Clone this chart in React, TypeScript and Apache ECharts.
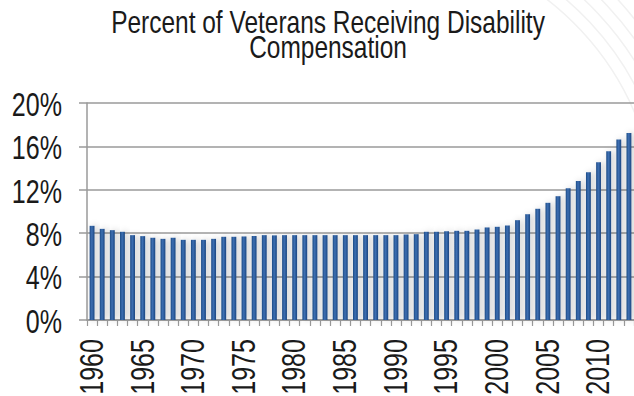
import React, { useEffect, useRef } from "react";
import * as echarts from "echarts";

const TITLE_LINES = ["Percent of Veterans Receiving Disability", "Compensation"];

const years = [
  "1960", "1961", "1962", "1963", "1964", "1965", "1966", "1967", "1968", "1969",
  "1970", "1971", "1972", "1973", "1974", "1975", "1976", "1977", "1978", "1979",
  "1980", "1981", "1982", "1983", "1984", "1985", "1986", "1987", "1988", "1989",
  "1990", "1991", "1992", "1993", "1994", "1995", "1996", "1997", "1998", "1999",
  "2000", "2001", "2002", "2003", "2004", "2005", "2006", "2007", "2008", "2009",
  "2010", "2011", "2012", "2013",
];

const percentReceiving = [
  8.68, 8.4, 8.28, 8.13, 7.82, 7.73, 7.58, 7.48, 7.58, 7.39,
  7.39, 7.39, 7.48, 7.67, 7.67, 7.7, 7.75, 7.82, 7.8, 7.82,
  7.82, 7.82, 7.82, 7.82, 7.82, 7.82, 7.82, 7.82, 7.82, 7.82,
  7.82, 7.88, 7.91, 8.13, 8.13, 8.18, 8.22, 8.22, 8.34, 8.53,
  8.59, 8.71, 9.2, 9.75, 10.25, 10.8, 11.41, 12.15, 12.82, 13.62,
  14.54, 15.55, 16.63, 17.24,
];

const yTicks = [0, 4, 8, 12, 16, 20];
const yTickLabels = ["0%", "4%", "8%", "12%", "16%", "20%"];
const xLabelYears = ["1960", "1965", "1970", "1975", "1980", "1985", "1990", "1995", "2000", "2005", "2010"];

const FONT = "'Liberation Sans', Arial, sans-serif";
const TEXT_COLOR = "#1a1a1a";
const AXIS_COLOR = "#9a9a9a";

function measure(text: string, size: number): number {
  const c = document.createElement("canvas").getContext("2d");
  if (!c) return text.length * size * 0.5;
  c.font = `${size}px ${FONT}`;
  return c.measureText(text).width;
}

export default function App() {
  const ref = useRef<HTMLDivElement>(null);

  useEffect(() => {
    if (!ref.current) return;
    const chart = echarts.init(ref.current, null, { renderer: "svg" });

    chart.setOption({
      animation: false,
      backgroundColor: "#ffffff",
      grid: { left: 87, right: 0, top: 103, bottom: 76, containLabel: false },
      xAxis: {
        type: "category",
        data: years,
        boundaryGap: true,
        axisLine: { show: true, lineStyle: { color: AXIS_COLOR, width: 1.5 } },
        axisTick: { show: true, interval: 0, length: 6, lineStyle: { color: AXIS_COLOR, width: 1.2 } },
        axisLabel: { show: false },
        splitLine: { show: false },
      },
      yAxis: {
        type: "value",
        min: yTicks[0],
        max: yTicks[yTicks.length - 1],
        interval: 4,
        axisLine: { show: true, lineStyle: { color: AXIS_COLOR, width: 1.5 } },
        axisTick: { show: true, length: 8, lineStyle: { color: AXIS_COLOR, width: 1.5 } },
        axisLabel: { show: false },
        splitLine: { show: true, lineStyle: { color: AXIS_COLOR, width: 1.5 } },
      },
      series: [
        {
          type: "bar",
          data: percentReceiving,
          barWidth: "48%",
          itemStyle: {
            color: new echarts.graphic.LinearGradient(0, 0, 1, 0, [
              { offset: 0, color: "#1c4a85" },
              { offset: 0.45, color: "#3d6fb2" },
              { offset: 1, color: "#1a4580" },
            ]),
            shadowBlur: 6,
            shadowColor: "rgba(0,0,0,0.22)",
            shadowOffsetX: 2.5,
            shadowOffsetY: 0,
          },
        },
      ],
    });

    const graphics: any[] = [];

    // faint decorative arcs, top-right
    [282, 294, 306, 318, 330].forEach((r, i) => {
      graphics.push({
        type: "arc",
        id: "arc" + i,
        silent: true,
        z: -10,
        shape: { cx: 375, cy: 223, r, startAngle: -1.25, endAngle: -0.25, clockwise: true },
        style: { fill: "none", stroke: "#f1f1f1", lineWidth: 1.5 },
      });
    });

    // title
    const titleSize = 32;
    const titleScale = 434 / measure(TITLE_LINES[0], titleSize);
    const titleTops = [6, 31];
    TITLE_LINES.forEach((line, i) => {
      graphics.push({
        type: "text",
        id: "title" + i,
        x: 328,
        y: titleTops[i],
        scaleX: titleScale,
        style: {
          text: line,
          x: 0,
          y: 0,
          align: "center",
          verticalAlign: "top",
          font: `${titleSize}px ${FONT}`,
          fill: TEXT_COLOR,
        },
      });
    });

    // y-axis labels from the axis scale
    const labelSize = 33;
    const labelScale = 0.76;
    yTicks.forEach((v, i) => {
      const py = chart.convertToPixel({ yAxisIndex: 0 }, v) as number;
      graphics.push({
        type: "text",
        id: "ylab" + i,
        x: 62,
        y: py + 1,
        scaleX: labelScale,
        style: {
          text: yTickLabels[i],
          x: 0,
          y: 0,
          align: "right",
          verticalAlign: "middle",
          font: `${labelSize}px ${FONT}`,
          fill: TEXT_COLOR,
        },
      });
    });

    // x-axis labels from the category scale
    const axisY = chart.convertToPixel({ yAxisIndex: 0 }, 0) as number;
    xLabelYears.forEach((yr, i) => {
      const px = chart.convertToPixel({ xAxisIndex: 0 }, yr) as number;
      graphics.push({
        type: "text",
        id: "xlab" + i,
        x: px - 1,
        y: axisY + 19,
        rotation: Math.PI / 2,
        scaleX: labelScale,
        style: {
          text: yr,
          x: 0,
          y: 0,
          align: "right",
          verticalAlign: "middle",
          font: `${labelSize}px ${FONT}`,
          fill: TEXT_COLOR,
        },
      });
    });

    chart.setOption({ graphic: graphics });

    return () => chart.dispose();
  }, []);

  return (
    <div
      ref={ref}
      style={{ position: "fixed", left: 0, top: 0, width: 634, height: 396 }}
    />
  );
}
